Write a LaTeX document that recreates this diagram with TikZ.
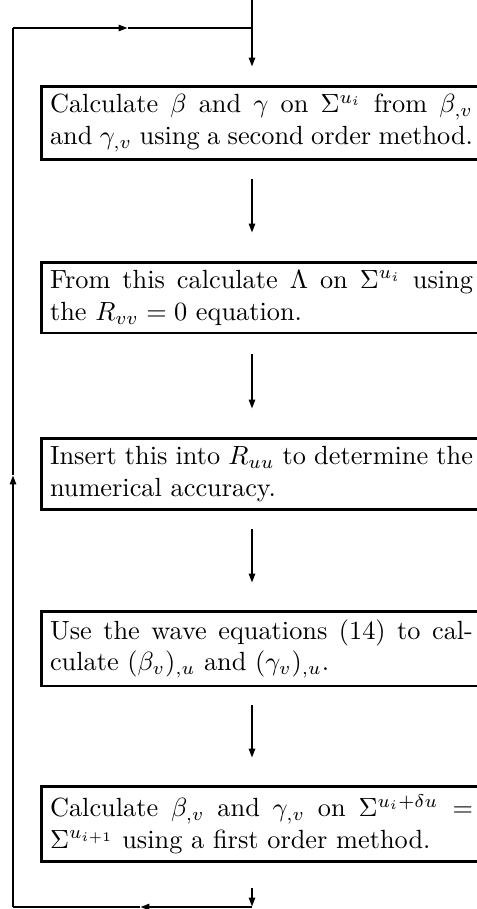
\documentclass[tikz,border=0pt]{standalone}
\usetikzlibrary{arrows.meta}
\begin{document}
\begin{tikzpicture}[x=0.3802pt,y=-0.3802pt,line width=1.05pt,
  stepbox/.style={draw, anchor=north west, text width=160.8pt, align=justify,
    inner xsep=3.3pt, inner ysep=3pt, font=\normalsize},
  arr/.style={-{Triangle[length=3.6pt,width=2.3pt]}}]
\useasboundingbox (0,0) rectangle (476,909);
% boxes
\node[stepbox] (b1) at (40,85) {Calculate $\beta$ and $\gamma$ on $\Sigma^{u_i}$ from $\beta_{,v}$\linebreak and $\gamma_{,v}$ using a second order method.};
\node[stepbox] (b2) at (40,261) {From this calculate $\Lambda$ on $\Sigma^{u_i}$ using\linebreak the $R_{vv}=0$ equation.};
\node[stepbox] (b3) at (40,437) {Insert this into $R_{uu}$ to determine the\linebreak numerical accuracy.};
\node[stepbox] (b4) at (40,610) {Use the wave equations (14) to cal-\linebreak culate $(\beta_v)_{,u}$ and $(\gamma_v)_{,u}$.};
\node[stepbox] (b5) at (40,785) {Calculate $\beta_{,v}$ and $\gamma_{,v}$ on $\Sigma^{u_i+\delta u}=$\linebreak $\Sigma^{u_{i+1}}$ using a first order method.};
% coordinates
\coordinate (t0) at (252,0);
\coordinate (tj) at (252,28);
\coordinate (t1) at (252,67);
\coordinate (a1s) at (252,179);
\coordinate (a1e) at (252,233);
\coordinate (a2s) at (252,354);
\coordinate (a2e) at (252,409);
\coordinate (a3s) at (252,529);
\coordinate (a3e) at (252,583);
\coordinate (a4s) at (252,705);
\coordinate (a4e) at (252,758);
\coordinate (a5s) at (252,888);
\coordinate (bj) at (252,907);
\coordinate (bl) at (13,907);
\coordinate (bm) at (140,907);
\coordinate (lm) at (13,475);
\coordinate (tl) at (13,28);
\coordinate (tm) at (128,28);
% arrows
\draw[arr] (t0) -- (t1);
\draw[arr] (a1s) -- (a1e);
\draw[arr] (a2s) -- (a2e);
\draw[arr] (a3s) -- (a3e);
\draw[arr] (a4s) -- (a4e);
\draw[arr] (a5s) -- (bj);
% loop back
\draw[arr] (bj) -- (bm);
\draw (bm) -- (bl);
\draw[arr] (bl) -- (lm);
\draw (lm) -- (tl);
\draw[arr] (tl) -- (tm);
\draw (tm) -- (tj);
\end{tikzpicture}
\end{document}
